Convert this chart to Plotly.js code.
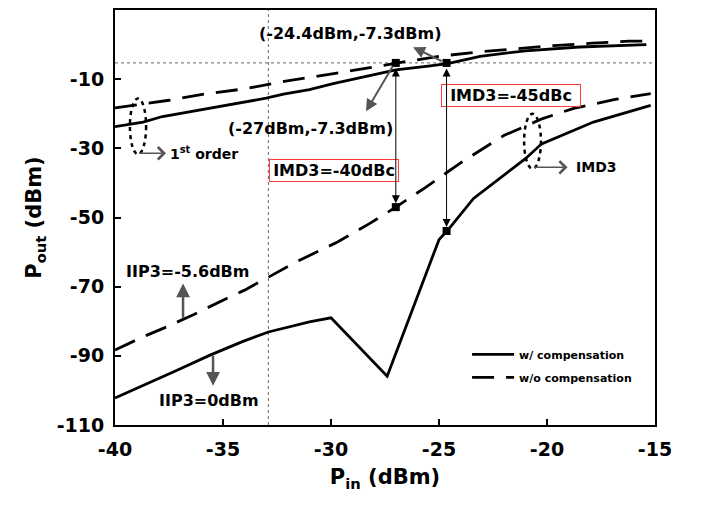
<!DOCTYPE html>
<html>
<head>
<meta charset="utf-8">
<script src="https://cdn.plot.ly/plotly-3.0.1.min.js"></script>
<style>html,body{margin:0;padding:0;background:#fff;}#chart{width:702px;height:509px;}</style>
</head>
<body>
<div id="chart"></div>
<script>
// ---- data ----
const xFirstW  = [-40, -38.7, -37.8, -36, -34.5, -33, -32.2, -31, -29.9, -28.4, -27, -25.5, -24.6, -23.1, -21, -18.5, -15.4];
const yFirstW  = [-23.7, -22.4, -20.8, -18.8, -17.3, -15.5, -14.3, -13.0, -11.3, -9.2, -7.3, -6.2, -5.5, -3.4, -1.8, -0.7, 0.0];
const xFirstWo = [-40, -37.5, -35.75, -34, -32.1, -30.3, -28.7, -26.7, -25, -23.3, -21.5, -19.7, -17.9, -16.2, -15.4];
const yFirstWo = [-18.3, -16.1, -14.2, -12.8, -10.6, -8.9, -7.2, -5.1, -3.4, -2.2, -1.2, -0.3, 0.4, 1.0, 1.0];
const xImdWo   = [-40, -38.7, -37.6, -36.4, -35, -34, -33, -31.5, -29.7, -28.2, -27, -25.6, -24, -22, -20.2, -18.8, -16.9, -15.2];
const yImdWo   = [-88.3, -84.5, -81.6, -78.2, -73.9, -71.0, -67.6, -62.5, -57.1, -51.7, -47.0, -41.2, -34.2, -26.3, -21.4, -18.5, -15.9, -14.2];
const xImdW    = [-40, -38.4, -37.1, -35.6, -34.1, -32.9, -31.6, -31, -30, -27.4, -25.0, -24.6, -23.4, -21, -20.25, -17.85, -15.2];
const yImdW    = [-102.2, -97.8, -94.1, -89.8, -85.9, -83.1, -81.1, -80.2, -79.0, -95.9, -56.4, -53.7, -44.5, -33.0, -28.7, -22.4, -17.6];
const xMarks   = [-27, -24.65, -27, -24.65];
const yMarks   = [-5.3, -5.3, -47, -53.9];
const refX = -32.9;
const refY = -5.3;
const xTicks = [-40, -35, -30, -25, -20, -15];
const xTickText = ['-40', '-35', '-30', '-25', '-20', '-15'];
const yTicks = [-110, -90, -70, -50, -30, -10, 10];
const yTickText = ['-110', '-90', '-70', '-50', '-30', '-10', '10'];
const seriesNames = ['w/ compensation', 'w/o compensation'];

const FONT = 'DejaVu Sans, Arial, sans-serif';
const DASH = '22px,12px';
const LW = 2.8;

const traces = [
  {x: xFirstW, y: yFirstW, mode: 'lines', name: seriesNames[0], legendgroup: 'a',
   line: {color: '#000', width: LW}},
  {x: xFirstWo, y: yFirstWo, mode: 'lines', name: seriesNames[1], legendgroup: 'b',
   line: {color: '#000', width: LW, dash: DASH}},
  {x: xImdW, y: yImdW, mode: 'lines', name: seriesNames[0], legendgroup: 'a', showlegend: false,
   line: {color: '#000', width: LW}},
  {x: xImdWo, y: yImdWo, mode: 'lines', name: seriesNames[1], legendgroup: 'b', showlegend: false,
   line: {color: '#000', width: LW, dash: DASH}},
  {x: xMarks, y: yMarks, mode: 'markers', showlegend: false, hoverinfo: 'x+y',
   marker: {symbol: 'square', size: 8, color: '#000'}}
];

function arrow(x, y, ax, ay, opts) {
  return Object.assign({x: x, y: y, ax: ax, ay: ay, xref: 'x', yref: 'y', axref: 'x', ayref: 'y',
    text: '', showarrow: true, arrowcolor: '#555', arrowwidth: 2, arrowhead: 2, arrowsize: 1.2}, opts || {});
}
function label(x, y, text, opts) {
  return Object.assign({x: x, y: y, xref: 'x', yref: 'y', text: text, showarrow: false,
    font: {family: FONT, size: 16, weight: 'bold', color: '#000'}}, opts || {});
}

const annotations = [
  label(-29.12, 3.2, '(-24.4dBm,-7.3dBm)'),
  label(-30.93, -24.2, '(-27dBm,-7.3dBm)'),
  label(-29.88, -36.35, 'IMD3=-40dBc', {bordercolor: '#ff3b3b', borderwidth: 1, borderpad: 2, width: 124, height: 17}),
  label(-21.69, -14.84, 'IMD3=-45dBc', {bordercolor: '#ff3b3b', borderwidth: 1, borderpad: 2, width: 134, height: 17}),
  label(-37.55, -31.4, '1<sup>st</sup> order', {xanchor: 'left', font: {family: FONT, size: 14, weight: 'bold', color: '#000'}}),
  label(-18.75, -35.4, 'IMD3', {xanchor: 'left', font: {family: FONT, size: 14, weight: 'bold', color: '#000'}}),
  label(-36.64, -65.5, 'IIP3=-5.6dBm'),
  label(-35.65, -102.8, 'IIP3=0dBm'),
  // pointer arrows
  arrow(-26.2, -0.74, -24.8, -5.0),
  arrow(-28.38, -19.3, -27.1, -5.8),
  arrow(-36.85, -69.1, -36.85, -79.4, {arrowwidth: 2.5, arrowsize: 1.1}),
  arrow(-35.46, -98.65, -35.46, -89.5, {arrowwidth: 2.5, arrowsize: 1.1}),
  arrow(-37.64, -31.4, -38.95, -31.4, {arrowwidth: 1.5, arrowhead: 4, arrowsize: 1.6}),
  arrow(-19.05, -35.5, -20.66, -35.5, {arrowwidth: 1.5, arrowhead: 4, arrowsize: 1.6}),
  // IMD3 double arrows
  arrow(xMarks[2], yMarks[2], xMarks[0], yMarks[0], {arrowcolor: '#000', arrowwidth: 1, arrowhead: 2, arrowsize: 1.6, arrowside: 'end+start', standoff: 4, startstandoff: 4}),
  arrow(xMarks[3], yMarks[3], xMarks[1], yMarks[1], {arrowcolor: '#000', arrowwidth: 1, arrowhead: 2, arrowsize: 1.6, arrowside: 'end+start', standoff: 4, startstandoff: 4})
];

const shapes = [
  {type: 'line', xref: 'x', yref: 'y', x0: refX, x1: refX, y0: -110, y1: 10, layer: 'below',
   line: {color: '#666', width: 1, dash: 'dot'}},
  {type: 'line', xref: 'x', yref: 'y', x0: -40, x1: -15, y0: refY, y1: refY, layer: 'below',
   line: {color: '#666', width: 1, dash: 'dot'}},
  {type: 'circle', xref: 'x', yref: 'y', x0: -39.31, x1: -38.56, y0: -31.7, y1: -15.6,
   line: {color: '#000', width: 2.5, dash: '4px,4px'}},
  {type: 'circle', xref: 'x', yref: 'y', x0: -21.06, x1: -20.28, y0: -35.9, y1: -20.0,
   line: {color: '#000', width: 2.5, dash: '4px,4px'}}
];

const axisCommon = {
  showgrid: false, zeroline: false, showline: true, linecolor: '#000', linewidth: 2, mirror: true,
  ticks: 'inside', ticklen: 6, tickwidth: 2, tickcolor: '#000',
  tickfont: {family: FONT, size: 19, weight: 'bold', color: '#000'}
};

const layout = {
  width: 702, height: 509,
  margin: {l: 115, r: 47, t: 10, b: 84},
  paper_bgcolor: '#fff', plot_bgcolor: '#fff',
  showlegend: true,
  legend: {x: 0.652, y: 0.205, xanchor: 'left', yanchor: 'top', traceorder: 'grouped', tracegroupgap: 4,
           itemwidth: 42,
           bgcolor: 'rgba(0,0,0,0)', font: {family: FONT, size: 11, weight: 'bold', color: '#000'}},
  xaxis: Object.assign({}, axisCommon, {range: [-40, -15], tickvals: xTicks, ticktext: xTickText, ticklabelstandoff: 6,
    title: {text: 'P<sub>in</sub> (dBm)', standoff: 11, font: {family: FONT, size: 21, weight: 'bold', color: '#000'}}}),
  yaxis: Object.assign({}, axisCommon, {range: [-110, 10], tickvals: yTicks, ticktext: yTickText, ticklabelstandoff: 5,
    title: {text: 'P<sub>out</sub> (dBm)', standoff: 9, font: {family: FONT, size: 21, weight: 'bold', color: '#000'}}}),
  annotations: annotations,
  shapes: shapes
};

Plotly.newPlot('chart', traces, layout, {displayModeBar: false, staticPlot: true});
</script>
</body>
</html>
